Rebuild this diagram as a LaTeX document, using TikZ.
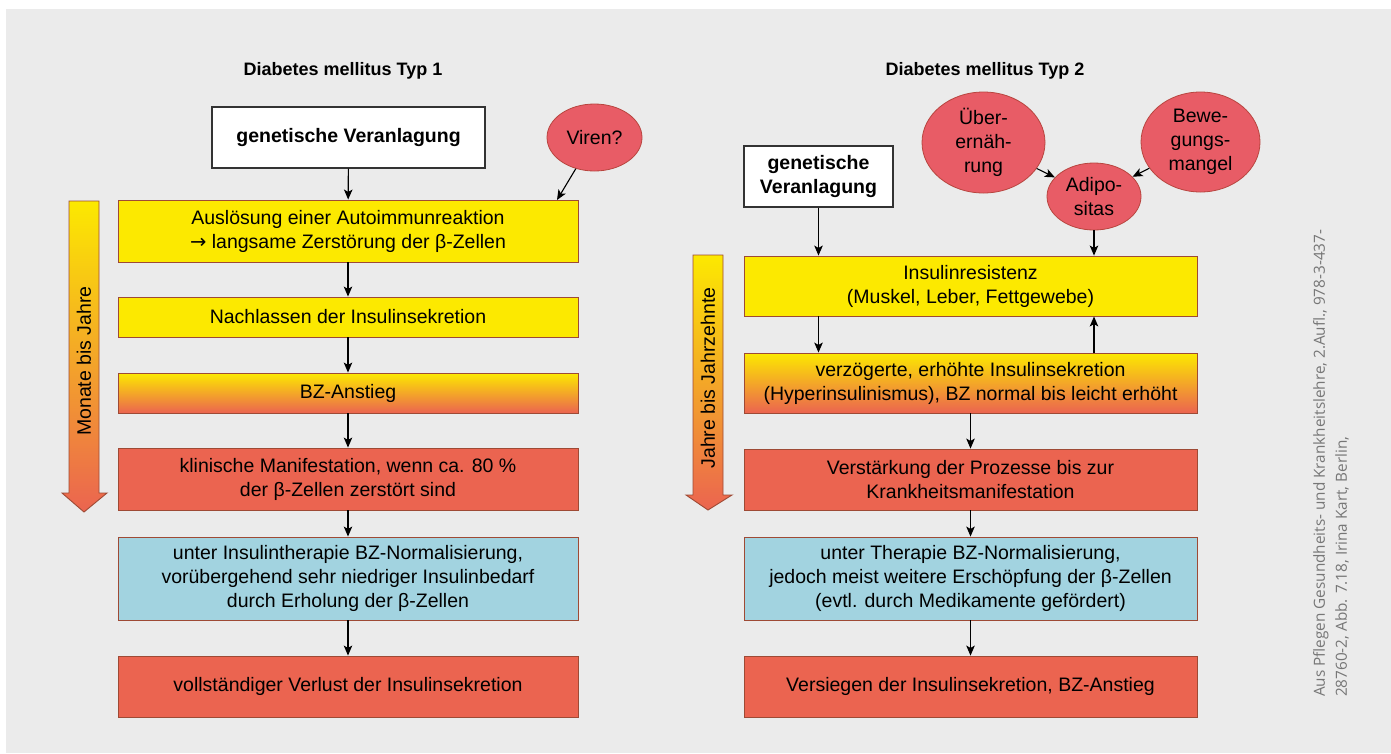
\documentclass[tikz,border=0pt]{standalone}
\usepackage{fontspec}
\setmainfont{Liberation Sans}
\newfontfamily\creditfont{Open Sans}
\newfontfamily\symfont{DejaVu Sans}
\usetikzlibrary{arrows.meta,shapes.geometric}

\definecolor{bggrey}{HTML}{EBEBEB}
\definecolor{boxyellow}{HTML}{FCE900}
\definecolor{boxred}{HTML}{EB6450}
\definecolor{ovalred}{HTML}{E85C66}
\definecolor{ovaledge}{HTML}{B8453F}
\definecolor{boxblue}{HTML}{A2D3E0}
\definecolor{edgebrown}{HTML}{9E4A35}
\definecolor{creditgrey}{HTML}{767676}

\tikzset{
  txt/.style={font=\fontsize{19.5}{24}\selectfont, align=center},
  flowbox/.style={txt, rectangle, draw=edgebrown, line width=0.9pt, inner sep=0pt},
  leftbox/.style={flowbox, minimum width=460pt},
  rightbox/.style={flowbox, minimum width=453pt},
  yellowbox/.style={fill=boxyellow},
  redbox/.style={fill=boxred},
  bluebox/.style={fill=boxblue},
  gradbox/.style={top color=boxyellow, bottom color=boxred},
  genbox/.style={txt, font=\fontsize{19.5}{24}\selectfont\bfseries, rectangle, draw=black!80, fill=white, line width=1.1pt, inner sep=0pt},
  oval/.style={txt, ellipse, fill=ovalred, draw=ovaledge, line width=0.8pt, inner sep=0pt},
  heading/.style={font=\fontsize{18}{22}\selectfont\bfseries},
  conn/.style={-{Stealth[length=10pt,width=8.5pt,inset=2.4pt]}, line width=1.1pt, black},
  timearrow/.style={draw=edgebrown, line width=0.9pt, top color=boxyellow, bottom color=boxred},
}

\begin{document}
\begin{tikzpicture}[x=1pt,y=-1pt]
  % canvas
  \useasboundingbox (0,0) rectangle (1391,753);
  \fill[bggrey] (6,9) rectangle (1391,753);

  % ---------- Typ 1 ----------
  \node[heading] (t1) at (343,71) {Diabetes mellitus Typ 1};
  \node[genbox, minimum width=273pt, minimum height=61pt] (gen1) at (348.5,137.5) {genetische Veranlagung};
  \node[oval, minimum width=95pt, minimum height=67pt] (viren) at (594.5,137.5) {Viren?};

  \node[leftbox, yellowbox, minimum height=62pt] (aus) at (348,231)
    {Auslösung einer Autoimmunreaktion\\{\symfont →} langsame Zerstörung der β-Zellen};
  \node[leftbox, yellowbox, minimum height=40pt] (nach) at (348,317)
    {Nachlassen der Insulinsekretion};
  \node[leftbox, gradbox, minimum height=40pt] (bz) at (348,393)
    {BZ-Anstieg};
  \node[leftbox, redbox, minimum height=62pt] (klin) at (348,479)
    {klinische Manifestation, wenn ca. 80 \%\\der β-Zellen zerstört sind};
  \node[leftbox, bluebox, minimum height=83pt] (ther1) at (348,578.5)
    {unter Insulintherapie BZ-Normalisierung,\\vorübergehend sehr niedriger Insulinbedarf\\durch Erholung der β-Zellen};
  \node[leftbox, redbox, minimum height=61pt] (verl) at (348,686.5)
    {vollständiger Verlust der Insulinsekretion};

  \coordinate (vtip) at (557,200);
  \draw[conn] (gen1) -- (aus);
  \draw[conn] (viren) -- (vtip);
  \draw[conn] (aus) -- (nach);
  \draw[conn] (nach) -- (bz);
  \draw[conn] (bz) -- (klin);
  \draw[conn] (klin) -- (ther1);
  \draw[conn] (ther1) -- (verl);

  % time arrow, left
  \path[timearrow] (69,201) -- (99,201) -- (99,493) -- (107,493) -- (84,512)
    -- (62,493) -- (69,493) -- cycle;
  \node[txt, rotate=90] (mbj) at (84,361) {Monate bis Jahre};

  % ---------- Typ 2 ----------
  \node[heading] (t2) at (985,71) {Diabetes mellitus Typ 2};
  \node[genbox, minimum width=149pt, minimum height=61pt] (gen2) at (818.5,176.5) {genetische\\Veranlagung};
  \node[oval, minimum width=123pt, minimum height=101pt] (ueber) at (983.5,142.5) {Über-\\ernäh-\\rung};
  \node[oval, minimum width=119pt, minimum height=100pt] (bew) at (1200.5,142) {Bewe-\\gungs-\\mangel};
  \node[oval, minimum width=94pt, minimum height=67pt] (adipo) at (1094,196.5) {Adipo-\\sitas};

  \node[rightbox, yellowbox, minimum height=60pt] (res) at (970.5,286)
    {Insulinresistenz\\(Muskel, Leber, Fettgewebe)};
  \node[rightbox, gradbox, minimum height=60pt] (verz) at (970.5,383)
    {verzögerte, erhöhte Insulinsekretion\\(Hyperinsulinismus), BZ normal bis leicht erhöht};
  \node[rightbox, redbox, minimum height=61pt] (verst) at (970.5,479.5)
    {Verstärkung der Prozesse bis zur\\Krankheitsmanifestation};
  \node[rightbox, bluebox, minimum height=83pt] (ther2) at (970.5,578.5)
    {unter Therapie BZ-Normalisierung,\\jedoch meist weitere Erschöpfung der β-Zellen\\(evtl. durch Medikamente gefördert)};
  \node[rightbox, redbox, minimum height=61pt] (vers) at (970.5,686.5)
    {Versiegen der Insulinsekretion, BZ-Anstieg};

  \draw[conn] (ueber) -- (adipo);
  \draw[conn] (bew) -- (adipo);
  \draw[conn] (adipo) -- (adipo |- res.north);
  \draw[conn] (gen2) -- (gen2 |- res.north);
  \draw[conn] (res.south -| gen2) -- (verz.north -| gen2);
  \draw[conn] (verz.north -| adipo) -- (res.south -| adipo);
  \draw[conn] (verz) -- (verst);
  \draw[conn] (verst) -- (ther2);
  \draw[conn] (ther2) -- (vers);

  % time arrow, right
  \path[timearrow] (693,255) -- (723,255) -- (723,495) -- (732,495) -- (708,510)
    -- (686,495) -- (693,495) -- cycle;
  \node[txt, rotate=90] (jbj) at (708,378) {Jahre bis Jahrzehnte};

  % source note
  \node[font=\creditfont\fontsize{15.3}{22}\selectfont, text=creditgrey, rotate=90,
        anchor=north west, align=left, inner sep=0pt] (credit) at (1313,697)
    {Aus Pflegen Gesundheits- und Krankheitslehre, 2.Aufl., 978-3-437-\\28760-2, Abb. 7.18, Irina Kart, Berlin,};
\end{tikzpicture}
\end{document}
